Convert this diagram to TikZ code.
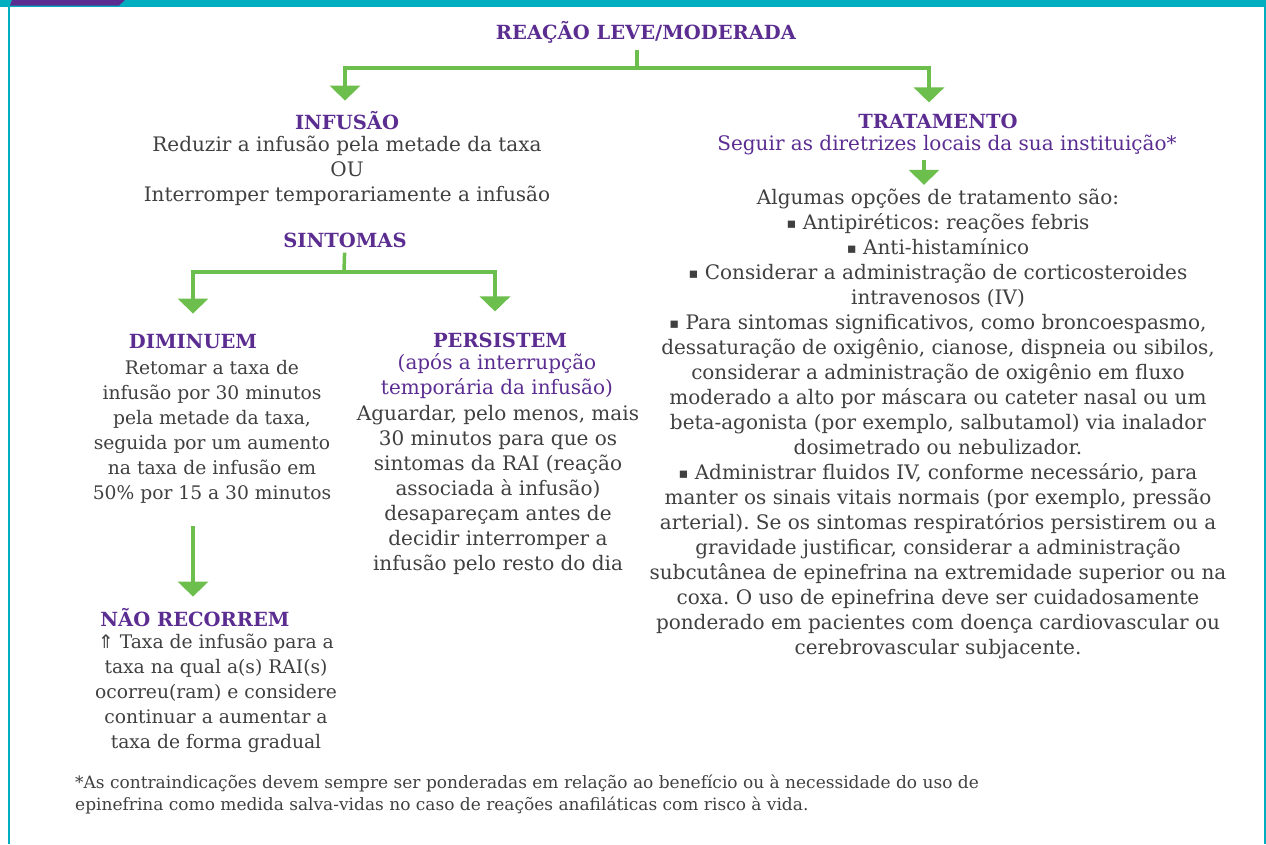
\documentclass[tikz,border=0pt]{standalone}
\usepackage{fontspec}
\setmainfont{DejaVu Serif}
\newfontfamily\symfont{DejaVu Sans}
\usetikzlibrary{arrows.meta, positioning}

\definecolor{brandteal}{HTML}{00AEBF}
\definecolor{brandpurple}{HTML}{5C2D91}
\definecolor{brandgreen}{HTML}{6CBF4C}
\definecolor{textgray}{HTML}{404040}

\newcommand{\sqb}{\raisebox{1.5pt}{\fontsize{14.5}{14.5}\selectfont\symfont\char"25AA}}
\newcommand{\upto}{{\symfont\char"21D1}}
\frenchspacing

\tikzset{
  heading/.style={font=\bfseries\fontsize{19.5}{24}\selectfont, text=brandpurple, inner sep=0pt},
  bodytext/.style={font=\fontsize{20}{25}\selectfont, text=textgray, align=center, inner sep=0pt},
  narrowtext/.style={bodytext, font=\fontsize{18.7}{25}\selectfont},
  subtext/.style={bodytext, text=brandpurple},
  stem/.style={draw=brandgreen, line width=3.5pt},
  flow/.style={stem, -{Triangle[width=30pt,length=15pt]}},
}

\begin{document}
\begin{tikzpicture}[x=1pt, y=-1pt]

	% Frame
	\useasboundingbox (0,0) rectangle (1266,844);
	\fill[brandteal] (0,0) rectangle (1266,6.5);
	\fill[brandpurple] (10,5.5) -- (12,0) -- (125,0) -- (119,5.5) -- cycle;
	\fill[brandteal] (7.5,5.5) rectangle (9.5,844);
	\fill[brandteal] (1264,5.5) rectangle (1266,844);

	% Nodes
	\node[heading] (title) at (646,32) {REAÇÃO LEVE/MODERADA};

	\node[heading] (inf) at (347,121) {INFUSÃO};
		\node[bodytext] (infbody) at (347,171) {Reduzir a infusão pela metade da taxa\\OU\\Interromper temporariamente a infusão};
	\node[heading] (sint) at (345,240) {SINTOMAS};

	\node[heading] (dimin) at (193,342) {DIMINUEM};
		\node[narrowtext] (diminbody) at (212,432) {Retomar a taxa de\\infusão por 30 minutos\\pela metade da taxa,\\seguida por um aumento\\na taxa de infusão em\\50\% por 15 a 30 minutos};
	\node[heading] (nao) at (195,618) {NÃO RECORREM};
		\node[narrowtext] (naobody) at (216,693) {\upto{} Taxa de infusão para a\\taxa na qual a(s) RAI(s)\\ocorreu(ram) e considere\\continuar a aumentar a\\taxa de forma gradual};

	\node[heading] (pers) at (500,340) {PERSISTEM};
		\node[subtext] (perssub) at (497,376) {(após a interrupção\\temporária da infusão)};
		\node[bodytext] (persbody) at (498,490) {Aguardar, pelo menos, mais\\30 minutos para que os\\sintomas da RAI (reação\\associada à infusão)\\desapareçam antes de\\decidir interromper a\\infusão pelo resto do dia};

	\node[heading] (trat) at (938,121) {TRATAMENTO};
		\node[subtext] (tratsub) at (947,145) {Seguir as diretrizes locais da sua instituição*};
		\node[bodytext] (tratbody) at (938,424) {Algumas opções de tratamento são:\\
			\sqb{} Antipiréticos: reações febris\\
			\sqb{} Anti-histamínico\\
			\sqb{} Considerar a administração de corticosteroides\\
			intravenosos (IV)\\
			\sqb{} Para sintomas significativos, como broncoespasmo,\\
			dessaturação de oxigênio, cianose, dispneia ou sibilos,\\
			considerar a administração de oxigênio em fluxo\\
			moderado a alto por máscara ou cateter nasal ou um\\
			beta-agonista (por exemplo, salbutamol) via inalador\\
			dosimetrado ou nebulizador.\\
			\sqb{} Administrar fluidos IV, conforme necessário, para\\
			manter os sinais vitais normais (por exemplo, pressão\\
			arterial). Se os sintomas respiratórios persistirem ou a\\
			gravidade justificar, considerar a administração\\
			subcutânea de epinefrina na extremidade superior ou na\\
			coxa. O uso de epinefrina deve ser cuidadosamente\\
			ponderado em pacientes com doença cardiovascular ou\\
			cerebrovascular subjacente.};

	\node[bodytext, align=left, anchor=north west, font=\fontsize{17}{22}\selectfont] (note) at (75,775) {*As contraindicações devem sempre ser ponderadas em relação ao benefício ou à necessidade do uso de\\epinefrina como medida salva-vidas no caso de reações anafiláticas com risco à vida.};

	\coordinate (split1) at (637,68);
	\coordinate (split2) at (344,272);

	% Arrows
	\draw[stem] (split1 |- title.south) ++(0,7) -- (split1);
	\draw[flow, shorten >=11pt] (split1) -| ([xshift=-2pt]inf.north);
	\draw[flow, shorten >=11pt] (split1) -| ([xshift=-9pt]trat.north);
	\draw[stem, shorten <=5pt] (sint) -- (split2);
	\draw[flow, shorten >=21pt] (split2) -| (dimin);
	\draw[flow, shorten >=21pt] (split2) -| ([xshift=-5pt]pers.north);
	\draw[flow, shorten <=22pt, shorten >=12pt] (dimin |- diminbody.south) -- (dimin |- nao.north);
	\draw[flow, shorten <=5pt, shorten >=4pt] ([xshift=-23pt]tratsub.south) -- ([xshift=-14pt]tratbody.north);

\end{tikzpicture}
\end{document}
